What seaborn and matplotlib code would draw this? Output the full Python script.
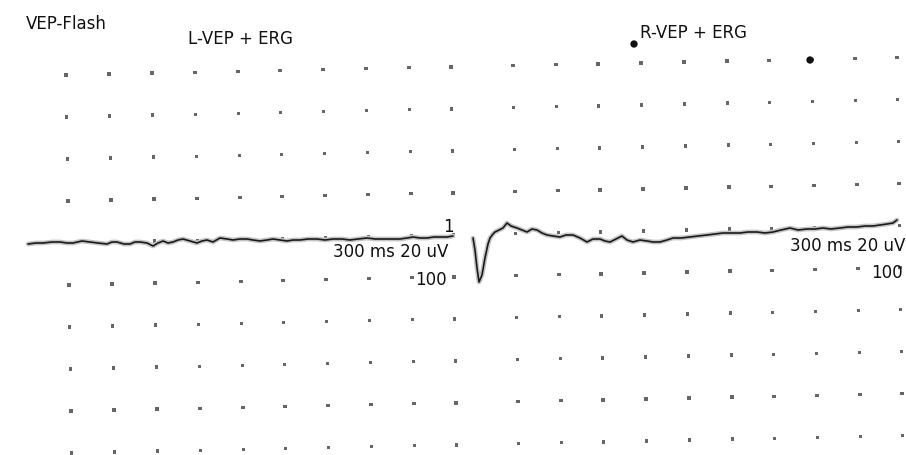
import numpy as np
import pandas as pd
import matplotlib
matplotlib.use("Agg")
import matplotlib.pyplot as plt
import seaborn as sns

# ---- data (page pixel units) ----
left_x = [28, 36, 43, 52, 60, 67, 73, 82, 90, 98, 107, 112, 117, 124, 130, 135, 140, 147, 153, 158,
          163, 168, 173, 178, 183, 190, 197, 202, 207, 213, 220, 227, 233, 240, 247, 253, 260, 267,
          273, 280, 287, 293, 300, 308, 317, 325, 333, 342, 350, 358, 367, 375, 383, 392, 400, 407,
          413, 420, 427, 434, 440, 447, 453]
left_y = [244, 243, 243, 242, 242, 243, 243, 241, 242, 243, 244, 242, 242, 244, 244, 242, 242, 243,
          246, 243, 241, 243, 242, 240, 239, 241, 243, 241, 240, 242, 238, 239, 240, 239, 239, 240,
          241, 240, 239, 240, 241, 240, 240, 239, 239, 240, 239, 239, 240, 239, 238, 239, 239, 239,
          239, 238, 237, 238, 238, 237, 237, 237, 236]

right_x = [473, 475, 477, 479, 482, 485, 488, 490, 493, 495, 499, 503, 507, 511, 517, 522, 527, 532,
           537, 542, 547, 553, 560, 566, 573, 580, 587, 593, 600, 605, 610, 616, 622, 627, 633, 640,
           647, 653, 660, 667, 673, 681, 690, 698, 707, 715, 723, 731, 740, 748, 757, 765, 773, 781,
           790, 798, 807, 815, 823, 831, 840, 848, 857, 865, 873, 880, 887, 893, 897]
right_y = [238, 250, 268, 282, 275, 258, 244, 238, 234, 232, 230, 228, 223, 226, 228, 230, 232, 229,
           230, 233, 235, 236, 237, 235, 235, 238, 242, 239, 239, 241, 242, 239, 236, 240, 242, 240,
           241, 242, 242, 240, 238, 238, 237, 236, 235, 234, 233, 233, 233, 232, 232, 233, 232, 230,
           228, 230, 229, 229, 228, 229, 228, 227, 227, 226, 226, 225, 224, 223, 220]

grid_cols_left = [66, 109, 152, 195, 238, 280, 323, 366, 409, 451]
grid_cols_right = [513, 556, 598, 641, 684, 727, 769, 812, 855, 897]
grid_rows = [75, 117, 159, 201, 243, 285, 327, 369, 411, 453]
blots_x = [634, 810]
blots_y = [44, 60]

title_text = "VEP-Flash"
left_label = "L-VEP + ERG"
right_label = "R-VEP + ERG"
scale_text = "300 ms 20 uV"
top_mark = "1"
bottom_mark = "100"

# ---- figure ----
sns.set_style("white")
plt.rcParams["font.family"] = ["DejaVu Sans"]
fig = plt.figure(figsize=(9.06, 4.55), dpi=100)
ax = fig.add_axes([0, 0, 1, 1])
ax.set_xlim(0, 906)
ax.set_ylim(455, 0)
ax.axis("off")

# dot grid, slightly rotated like the scanned page
shear_x, shear_y = 0.015, 0.021
pts = []
for cols in (grid_cols_left, grid_cols_right):
    for c in cols:
        for r in grid_rows:
            pts.append((c + shear_x * (r - 75), r - shear_y * (c - 66)))
grid_df = pd.DataFrame(pts, columns=["x", "y"])
sns.scatterplot(data=grid_df, x="x", y="y", ax=ax, s=6, color="#666666",
                edgecolor="none", marker="s", legend=False, zorder=1)

sns.scatterplot(x=blots_x, y=blots_y, ax=ax, s=28, color="#111111",
                edgecolor="none", legend=False, zorder=2)

# traces with scan halo
for xs, ys in ((left_x, left_y), (right_x, right_y)):
    df = pd.DataFrame({"x": xs, "y": ys})
    sns.lineplot(data=df, x="x", y="y", ax=ax, sort=False, estimator=None,
                 color="#c4c4c4", linewidth=3.4, zorder=3)
    sns.lineplot(data=df, x="x", y="y", ax=ax, sort=False, estimator=None,
                 color="#1a1a1a", linewidth=1.2, zorder=4)

ax.set_xlim(0, 906)
ax.set_ylim(455, 0)
ax.set_xlabel("")
ax.set_ylabel("")

fs = 12
tc = "#111111"
ax.text(26, 29, title_text, fontsize=fs, color=tc, va="baseline", ha="left")
ax.text(188, 44, left_label, fontsize=fs, color=tc, va="baseline", ha="left")
ax.text(640, 38, right_label, fontsize=fs, color=tc, va="baseline", ha="left")
ax.text(454, 232, top_mark, fontsize=fs, color=tc, va="baseline", ha="right")
ax.text(448, 257, scale_text, fontsize=fs, color=tc, va="baseline", ha="right")
ax.text(447, 285, bottom_mark, fontsize=fs, color=tc, va="baseline", ha="right")
ax.text(905, 251, scale_text, fontsize=fs, color=tc, va="baseline", ha="right")
ax.text(903, 278, bottom_mark, fontsize=fs, color=tc, va="baseline", ha="right")

fig.savefig("out.png", dpi=100, facecolor="white")
